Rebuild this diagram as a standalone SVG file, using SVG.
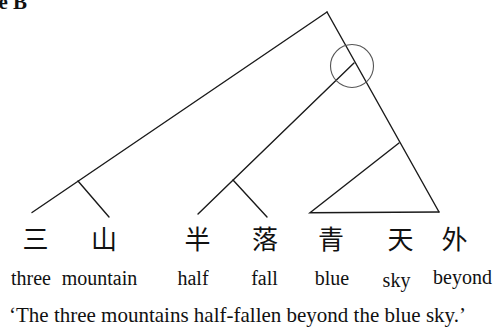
<svg xmlns="http://www.w3.org/2000/svg" width="499" height="329" viewBox="0 0 499 329">
<style>
.ln{stroke:#1a1a1a;stroke-width:1.4;fill:none;stroke-linecap:round;stroke-linejoin:miter}
.cjk{font-family:"Noto Sans CJK SC","Noto Sans CJK JP",sans-serif;font-size:26px;fill:#111;text-anchor:middle}
.gl{font-family:"Liberation Serif",serif;font-size:20px;fill:#111;text-anchor:middle}
.tr{font-family:"Liberation Serif",serif;font-size:21px;fill:#111}
</style>
<rect width="499" height="329" fill="#fff"/>
<text x="-1.6" y="9" font-family="Liberation Serif, serif" font-size="21" font-weight="bold" fill="#111">e B</text>
<g id="connectors">
<path class="ln" d="M327,12 L32,212.5"/>
<path class="ln" d="M78,181 L109,217"/>
<path class="ln" d="M327,12 L439,212"/>
<path class="ln" d="M354,63 L198,214"/>
<path class="ln" d="M233,180 L267,217"/>
<path class="ln" d="M399,143 L310,212.7 L439,212"/>
</g>
<g id="highlight"><circle cx="352" cy="66" r="21.5" fill="none" stroke="#555" stroke-width="1.1"/></g>
<g id="n-san"><text class="cjk" x="35.5" y="249">三</text><text class="gl" x="31" y="285">three</text></g>
<g id="n-shan"><text class="cjk" x="104" y="249">山</text><text class="gl" x="99.5" y="285">mountain</text></g>
<g id="n-ban"><text class="cjk" x="197.5" y="249">半</text><text class="gl" x="193" y="285">half</text></g>
<g id="n-luo"><text class="cjk" x="265" y="249">落</text><text class="gl" x="264.5" y="284.5">fall</text></g>
<g id="n-qing"><text class="cjk" x="331" y="249">青</text><text class="gl" x="332" y="285">blue</text></g>
<g id="n-tian"><text class="cjk" x="400.5" y="249">天</text><text class="gl" x="396.5" y="287">sky</text></g>
<g id="n-wai"><text class="cjk" x="454.5" y="249">外</text><text class="gl" x="462.5" y="283.5">beyond</text></g>
<text class="tr" x="9" y="321.5">‘The three mountains half-fallen beyond the blue sky.’</text>
</svg>
